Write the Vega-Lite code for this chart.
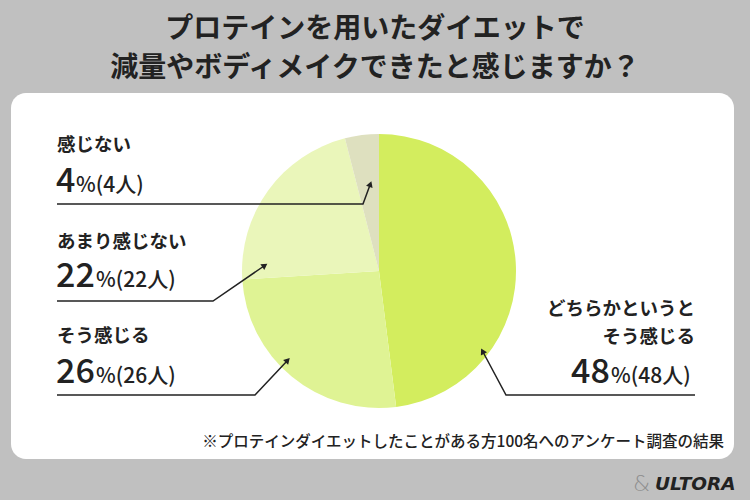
{
  "$schema": "https://vega.github.io/schema/vega-lite/v6.json",
  "width": 750,
  "height": 500,
  "autosize": {"type": "fit", "contains": "padding"},
  "padding": 0,
  "background": "#c0c0c0",
  "config": {
    "view": {"stroke": null},
    "axis": {"disable": true},
    "font": "Noto Sans CJK JP",
    "text": {"font": "Noto Sans CJK JP", "color": "#222222"}
  },
  "datasets": {
    "panel": [{"x": 11, "x2": 734, "y": 93, "y2": 459}],
    "slices": [
      {"answer": "どちらかというとそう感じる", "pct": 48, "ord": 1},
      {"answer": "そう感じる", "pct": 26, "ord": 2},
      {"answer": "あまり感じない", "pct": 22, "ord": 3},
      {"answer": "感じない", "pct": 4, "ord": 4}
    ],
    "leaders": [
      {"id": "a", "i": 1, "x": 57, "y": 204},
      {"id": "a", "i": 2, "x": 363, "y": 204},
      {"id": "a", "i": 3, "x": 370, "y": 185},
      {"id": "b", "i": 1, "x": 57, "y": 301},
      {"id": "b", "i": 2, "x": 213, "y": 301},
      {"id": "b", "i": 3, "x": 264, "y": 266},
      {"id": "c", "i": 1, "x": 57, "y": 395},
      {"id": "c", "i": 2, "x": 255, "y": 395},
      {"id": "c", "i": 3, "x": 287, "y": 361},
      {"id": "d", "i": 1, "x": 695, "y": 395},
      {"id": "d", "i": 2, "x": 506, "y": 395},
      {"id": "d", "i": 3, "x": 483, "y": 352}
    ],
    "arrows": [
      {"x": 370, "y": 185, "fx": 363, "fy": 204},
      {"x": 264, "y": 266, "fx": 213, "fy": 301},
      {"x": 287, "y": 361, "fx": 255, "fy": 395},
      {"x": 483, "y": 352, "fx": 506, "fy": 395}
    ]
  },
  "layer": [
    {
      "data": {"name": "panel"},
      "mark": {"type": "rect", "fill": "white", "cornerRadius": 15},
      "encoding": {
        "x": {"field": "x", "type": "quantitative", "scale": {"domain": [0, 750], "nice": false, "zero": false}},
        "y": {"field": "y", "type": "quantitative", "scale": {"domain": [0, 500], "nice": false, "zero": false, "reverse": true}},
        "x2": {"field": "x2"},
        "y2": {"field": "y2"}
      }
    },
    {
      "data": {"values": [
        {"text": "プロテインを用いたダイエットで", "x": 375, "y": 30},
        {"text": "減量やボディメイクできたと感じますか？", "x": 375, "y": 69}
      ]},
      "mark": {"type": "text", "fontSize": 28, "fontWeight": "bold", "align": "center", "baseline": "middle"},
      "encoding": {
        "x": {"field": "x", "type": "quantitative", "scale": {"domain": [0, 750], "nice": false, "zero": false}},
        "y": {"field": "y", "type": "quantitative", "scale": {"domain": [0, 500], "nice": false, "zero": false, "reverse": true}},
        "text": {"field": "text"}
      }
    },
    {
      "data": {"name": "slices"},
      "mark": {"type": "arc", "outerRadius": 137, "x": {"expr": "scale('x', 379)"}, "y": {"expr": "scale('y', 271)"}},
      "encoding": {
        "theta": {"field": "pct", "type": "quantitative", "stack": true},
        "order": {"field": "ord", "type": "quantitative"},
        "color": {
          "field": "answer",
          "type": "nominal",
          "scale": {
            "domain": ["どちらかというとそう感じる", "そう感じる", "あまり感じない", "感じない"],
            "range": ["#d3ed5e", "#dff394", "#eaf6ba", "#dee0bf"]
          },
          "legend": null
        }
      }
    },
    {
      "data": {"name": "leaders"},
      "mark": {"type": "line", "color": "#222222", "strokeWidth": 1.5},
      "encoding": {
        "x": {"field": "x", "type": "quantitative", "scale": {"domain": [0, 750], "nice": false, "zero": false}},
        "y": {"field": "y", "type": "quantitative", "scale": {"domain": [0, 500], "nice": false, "zero": false, "reverse": true}},
        "detail": {"field": "id"},
        "order": {"field": "i"}
      }
    },
    {
      "data": {"name": "arrows"},
      "transform": [
        {"calculate": "atan2(datum.x - datum.fx, datum.fy - datum.y) * 180 / PI", "as": "ang"}
      ],
      "mark": {"type": "point", "shape": "triangle", "filled": true, "fill": "#222222", "size": 48, "opacity": 1},
      "encoding": {
        "x": {"field": "x", "type": "quantitative", "scale": {"domain": [0, 750], "nice": false, "zero": false}},
        "y": {"field": "y", "type": "quantitative", "scale": {"domain": [0, 500], "nice": false, "zero": false, "reverse": true}},
        "angle": {"field": "ang", "type": "quantitative", "scale": null}
      }
    },
    {
      "data": {"values": [
        {"text": "感じない", "x": 57, "y": 145},
        {"text": "あまり感じない", "x": 57, "y": 242},
        {"text": "そう感じる", "x": 57, "y": 336}
      ]},
      "mark": {"type": "text", "fontSize": 18.5, "fontWeight": "bold", "align": "left", "baseline": "middle"},
      "encoding": {
        "x": {"field": "x", "type": "quantitative", "scale": {"domain": [0, 750], "nice": false, "zero": false}},
        "y": {"field": "y", "type": "quantitative", "scale": {"domain": [0, 500], "nice": false, "zero": false, "reverse": true}},
        "text": {"field": "text"}
      }
    },
    {
      "data": {"values": [
        {"text": "どちらかというと", "x": 695, "y": 309},
        {"text": "そう感じる", "x": 695, "y": 337}
      ]},
      "mark": {"type": "text", "fontSize": 18.5, "fontWeight": "bold", "align": "right", "baseline": "middle"},
      "encoding": {
        "x": {"field": "x", "type": "quantitative", "scale": {"domain": [0, 750], "nice": false, "zero": false}},
        "y": {"field": "y", "type": "quantitative", "scale": {"domain": [0, 500], "nice": false, "zero": false, "reverse": true}},
        "text": {"field": "text"}
      }
    },
    {
      "data": {"values": [
        {"text": "4", "x": 56, "y": 192},
        {"text": "22", "x": 56, "y": 287},
        {"text": "26", "x": 56, "y": 383},
        {"text": "48", "x": 571, "y": 383}
      ]},
      "mark": {"type": "text", "fontSize": 34, "fontWeight": 500, "align": "left", "baseline": "alphabetic"},
      "encoding": {
        "x": {"field": "x", "type": "quantitative", "scale": {"domain": [0, 750], "nice": false, "zero": false}},
        "y": {"field": "y", "type": "quantitative", "scale": {"domain": [0, 500], "nice": false, "zero": false, "reverse": true}},
        "text": {"field": "text"}
      }
    },
    {
      "data": {"values": [
        {"text": "%(4人)", "x": 76, "y": 192},
        {"text": "%(22人)", "x": 96, "y": 287},
        {"text": "%(26人)", "x": 96, "y": 383},
        {"text": "%(48人)", "x": 611, "y": 383}
      ]},
      "mark": {"type": "text", "fontSize": 21, "fontWeight": 500, "align": "left", "baseline": "alphabetic"},
      "encoding": {
        "x": {"field": "x", "type": "quantitative", "scale": {"domain": [0, 750], "nice": false, "zero": false}},
        "y": {"field": "y", "type": "quantitative", "scale": {"domain": [0, 500], "nice": false, "zero": false, "reverse": true}},
        "text": {"field": "text"}
      }
    },
    {
      "data": {"values": [
        {"text": "※プロテインダイエットしたことがある方100名へのアンケート調査の結果", "x": 724, "y": 442}
      ]},
      "mark": {"type": "text", "fontSize": 15.5, "fontWeight": 500, "align": "right", "baseline": "middle"},
      "encoding": {
        "x": {"field": "x", "type": "quantitative", "scale": {"domain": [0, 750], "nice": false, "zero": false}},
        "y": {"field": "y", "type": "quantitative", "scale": {"domain": [0, 500], "nice": false, "zero": false, "reverse": true}},
        "text": {"field": "text"}
      }
    },
    {
      "data": {"values": [{"text": "&", "x": 633, "y": 484}]},
      "mark": {"type": "text", "font": "DejaVu Sans", "fontSize": 22, "fontWeight": 300, "color": "#8e8e8e", "align": "left", "baseline": "middle"},
      "encoding": {
        "x": {"field": "x", "type": "quantitative", "scale": {"domain": [0, 750], "nice": false, "zero": false}},
        "y": {"field": "y", "type": "quantitative", "scale": {"domain": [0, 500], "nice": false, "zero": false, "reverse": true}},
        "text": {"field": "text"}
      }
    },
    {
      "data": {"values": [{"text": "ULTORA", "x": 655, "y": 484}]},
      "mark": {"type": "text", "font": "DejaVu Sans", "fontSize": 18.5, "fontWeight": "bold", "fontStyle": "italic", "color": "#222222", "align": "left", "baseline": "middle"},
      "encoding": {
        "x": {"field": "x", "type": "quantitative", "scale": {"domain": [0, 750], "nice": false, "zero": false}},
        "y": {"field": "y", "type": "quantitative", "scale": {"domain": [0, 500], "nice": false, "zero": false, "reverse": true}},
        "text": {"field": "text"}
      }
    }
  ]
}
